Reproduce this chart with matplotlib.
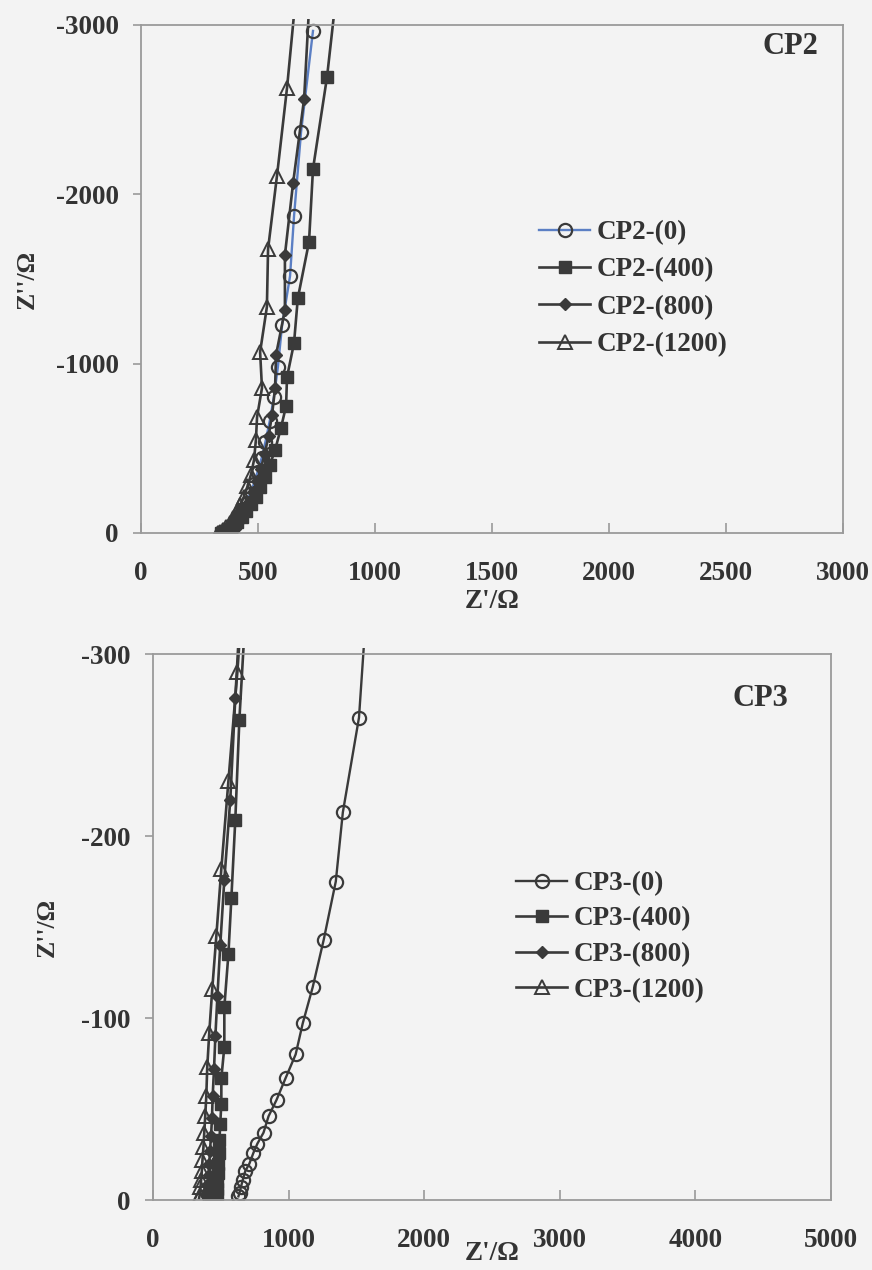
import matplotlib
matplotlib.use("Agg")
import matplotlib.pyplot as plt
from matplotlib.patches import Rectangle

# ---------------- data: CP2 ----------------
cp2_0_x = [735, 684, 654, 637, 603, 585, 568, 550, 532, 515, 498, 482, 466, 452, 438, 425, 412, 400, 390, 382, 375]
cp2_0_y = [-2965, -2368, -1872, -1518, -1228, -980, -803, -660, -540, -440, -360, -290, -230, -180, -140, -105, -75, -50, -30, -15, -5]

cp2_400_x = [840, 795, 735, 718, 670, 654, 624, 620, 598, 573, 550, 530, 510, 490, 470, 450, 430, 410, 390, 370, 352, 340]
cp2_400_y = [-3250, -2693, -2150, -1719, -1385, -1122, -921, -750, -620, -490, -400, -330, -270, -215, -170, -130, -95, -65, -42, -22, -8, -2]

cp2_800_x = [720, 697, 650, 615, 615, 577, 573, 560, 545, 528, 512, 496, 480, 465, 450, 436, 422, 408, 395, 384, 375, 368]
cp2_800_y = [-3150, -2563, -2067, -1642, -1317, -1051, -856, -697, -570, -465, -380, -305, -245, -190, -145, -108, -78, -52, -32, -16, -6, -1]

cp2_1200_x = [660, 624, 581, 543, 538, 509, 517, 496, 491, 483, 470, 455, 440, 425, 410, 395, 380, 365, 350, 338, 330]
cp2_1200_y = [-3150, -2628, -2108, -1677, -1335, -1069, -856, -685, -549, -431, -345, -275, -215, -165, -122, -88, -60, -38, -20, -8, -2]

# ---------------- data: CP3 ----------------
cp3_0_x = [1560, 1519, 1400, 1348, 1259, 1178, 1104, 1052, 978, 911, 852, 815, 770, 741, 711, 681, 662, 648, 638, 630]
cp3_0_y = [-310, -265, -213, -175, -143, -117, -97, -80, -67, -55, -46, -37, -31, -26, -20, -16, -11, -7, -4, -2]

cp3_400_x = [680, 637, 607, 578, 556, 526, 526, 504, 504, 496, 490, 485, 481, 478, 475, 473, 470, 468]
cp3_400_y = [-320, -264, -209, -166, -135, -106, -84, -67, -53, -42, -33, -26, -20, -15, -10, -6, -3, -1]

cp3_800_x = [640, 607, 570, 526, 496, 475, 460, 450, 440, 435, 428, 420, 415, 410, 405, 400, 397]
cp3_800_y = [-320, -276, -220, -176, -140, -112, -90, -72, -57, -45, -35, -27, -20, -14, -9, -5, -2]

cp3_1200_x = [650, 622, 556, 504, 467, 437, 415, 400, 393, 385, 378, 372, 365, 360, 355, 350, 345, 340]
cp3_1200_y = [-320, -290, -230, -182, -145, -116, -92, -73, -57, -46, -37, -29, -22, -16, -11, -7, -3, -1]

cp2_labels = ["CP2-(0)", "CP2-(400)", "CP2-(800)", "CP2-(1200)"]
cp3_labels = ["CP3-(0)", "CP3-(400)", "CP3-(800)", "CP3-(1200)"]

cp2_xticks = [0, 500, 1000, 1500, 2000, 2500, 3000]
cp2_yticks = [0, -1000, -2000, -3000]
cp3_xticks = [0, 1000, 2000, 3000, 4000, 5000]
cp3_yticks = [0, -100, -200, -300]

# ---------------- style ----------------
BG = "#f3f3f3"
INK = "#333333"
LINE = "#3a3a3a"
BLUE = "#5b7fc4"
AXC = "#9a9a9a"
SERIF = ["Liberation Serif", "DejaVu Serif"]
FS = 19.5

plt.rcParams["font.family"] = SERIF
plt.rcParams["font.weight"] = "bold"

fig = plt.figure(figsize=(8.72, 12.70), dpi=100, facecolor=BG)

W, H = 872.0, 1270.0


def px_axes(left, right, top, bottom):
    return fig.add_axes([left / W, 1 - bottom / H, (right - left) / W, (bottom - top) / H])


def fig_pt(x, y):
    return (x / W, 1 - y / H)


def styles(first_line_color):
    return [
        dict(color=first_line_color, marker="o", ms=9.5, mfc="none", mec=LINE, mew=1.6, lw=1.7),
        dict(color=LINE, marker="s", ms=9, mfc=LINE, mec=LINE, mew=1.0, lw=1.9),
        dict(color=LINE, marker="D", ms=6.5, mfc=LINE, mec=LINE, mew=1.0, lw=1.9),
        dict(color=LINE, marker="^", ms=9.5, mfc="none", mec=LINE, mew=1.4, lw=1.9),
    ]


def draw_series(ax, series, sty, labels, height_px):
    # lines run a few pixels past the top border before being cut
    extra = 6.0 / height_px
    for (xs, ys), st, lab in zip(series, sty, labels):
        ln, = ax.plot(xs, ys, label=lab, **st)
        ln.set_clip_path(Rectangle((0, 0), 1, 1 + extra, transform=ax.transAxes))


def decorate(ax, xticks, yticks, xmax, ymin):
    ax.set_facecolor(BG)
    ax.set_xlim(0, xmax)
    ax.set_ylim(0, ymin)
    ax.set_xticks(xticks)
    ax.set_yticks(yticks)
    ax.set_xticklabels([str(t) for t in xticks])
    ax.set_yticklabels([str(t) for t in yticks])
    for s in ax.spines.values():
        s.set_color(AXC)
        s.set_linewidth(1.3)
    ax.tick_params(axis="x", direction="in", length=7, width=1.2, color=AXC,
                   labelsize=FS, labelcolor=INK, pad=20)
    ax.tick_params(axis="y", direction="out", length=6, width=1.2, color=AXC,
                   labelsize=FS, labelcolor=INK, pad=10)
    for lab in ax.get_xticklabels() + ax.get_yticklabels():
        lab.set_fontweight("bold")


def add_legend(ax, left_px, top_px, spacing):
    ax.legend(loc="upper left", bbox_to_anchor=fig_pt(left_px, top_px),
              bbox_transform=fig.transFigure, frameon=False,
              prop=dict(family=SERIF, weight="bold", size=FS), labelcolor=INK,
              handlelength=1.9, handletextpad=0.22, labelspacing=spacing,
              borderpad=0, borderaxespad=0)


# ---------------- CP2 panel ----------------
ax1 = px_axes(141, 843, 25, 533)
series2 = [(cp2_0_x, cp2_0_y), (cp2_400_x, cp2_400_y), (cp2_800_x, cp2_800_y), (cp2_1200_x, cp2_1200_y)]
draw_series(ax1, series2, styles(BLUE), cp2_labels, 508)
decorate(ax1, cp2_xticks, cp2_yticks, 3000, -3000)
fig.text(*fig_pt(492, 601), "Z'/Ω", ha="center", va="center",
         fontsize=FS, fontweight="bold", color=INK)
ax1.set_ylabel("Z''/Ω", fontsize=FS - 1, fontweight="bold", color=INK, labelpad=12)
fig.text(*fig_pt(762, 47), "CP2", ha="left", va="center",
         fontsize=22, fontweight="bold", color=INK)
add_legend(ax1, 539, 220, 0.46)

# ---------------- CP3 panel ----------------
ax2 = px_axes(153, 831, 654, 1200)
series3 = [(cp3_0_x, cp3_0_y), (cp3_400_x, cp3_400_y), (cp3_800_x, cp3_800_y), (cp3_1200_x, cp3_1200_y)]
draw_series(ax2, series3, styles(LINE), cp3_labels, 546)
decorate(ax2, cp3_xticks, cp3_yticks, 5000, -300)
fig.text(*fig_pt(492, 1253), "Z'/Ω", ha="center", va="center",
         fontsize=FS, fontweight="bold", color=INK)
ax2.set_ylabel("Z''/Ω", fontsize=FS - 1, fontweight="bold", color=INK, labelpad=16)
fig.text(*fig_pt(732, 698), "CP3", ha="left", va="center",
         fontsize=22, fontweight="bold", color=INK)
add_legend(ax2, 516, 871, 0.39)

fig.savefig("out.png", dpi=100, facecolor=BG)
